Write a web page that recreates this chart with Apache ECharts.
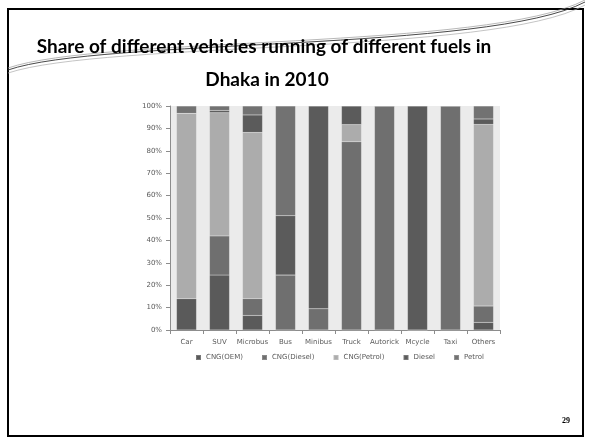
<!DOCTYPE html>
<html><head><meta charset="utf-8">
<script src="https://cdn.jsdelivr.net/npm/echarts@6/dist/echarts.min.js"></script>
<style>html,body{margin:0;padding:0;background:#fff}#c{width:591px;height:444px}</style>
</head><body><div id="c"></div>
<script>
const categories = ['Car','SUV','Microbus','Bus','Minibus','Truck','Autorick','Mcycle','Taxi','Others'];
const cngOem    = [14, 24.5, 6.5, 0, 0, 0, 0, 0, 0, 3.4];
const cngDiesel = [0, 17.5, 7.5, 24.5, 9.5, 84, 100, 0, 100, 7.3];
const cngPetrol = [82.7, 55, 74.2, 0, 0, 7.7, 0, 0, 0, 81.1];
const diesel    = [0, 1, 7.8, 26.5, 90.5, 8.3, 0, 100, 0, 2.4];
const petrol    = [3.3, 2, 4, 49, 0, 0, 0, 0, 0, 5.8];
const titleLines = ['Share of different vehicles running of different fuels in', 'Dhaka in 2010'];

const seriesDefs = [
  ['CNG(OEM)', cngOem, '#5a5a5a'],
  ['CNG(Diesel)', cngDiesel, '#6f6f6f'],
  ['CNG(Petrol)', cngPetrol, '#acacac'],
  ['Diesel', diesel, '#5b5b5b'],
  ['Petrol', petrol, '#727272']
];

const chart = echarts.init(document.getElementById('c'), null, {renderer:'canvas'});
chart.setOption({
  animation:false,
  backgroundColor:'#fff',
  graphic:[
    {type:'rect', shape:{x:8,y:9,width:575,height:427}, style:{fill:'none', stroke:'#000', lineWidth:2}, z:10},
    {type:'bezierCurve', shape:{x1:8,y1:68,x2:585,y2:0,cpx1:100,cpy1:36,cpx2:490,cpy2:50}, style:{stroke:'#999', lineWidth:0.7, fill:'none'}, z:11},
    {type:'bezierCurve', shape:{x1:8,y1:70,x2:585,y2:2,cpx1:100,cpy1:38,cpx2:490,cpy2:52}, style:{stroke:'#333', lineWidth:0.9, fill:'none'}, z:11},
    {type:'bezierCurve', shape:{x1:8,y1:73,x2:585,y2:5,cpx1:105,cpy1:41,cpx2:495,cpy2:55}, style:{stroke:'#aaa', lineWidth:0.7, fill:'none'}, z:11},
    {type:'text', x:264, y:47, style:{text:titleLines[0], font:'bold 19px Lato', fill:'#000', textAlign:'center', textVerticalAlign:'middle'}, z:12},
    {type:'text', x:267, y:80, style:{text:titleLines[1], font:'bold 19px Lato', fill:'#000', textAlign:'center', textVerticalAlign:'middle'}, z:12},
    {type:'text', left:562, top:417, style:{text:'29', font:'bold 8px "Liberation Serif"', fill:'#000'}}
  ],
  grid:{left:170, right:91, top:106, bottom:114, show:true, backgroundColor:'#ebebeb', borderWidth:0},
  legend:{
    left:190, top:349, itemWidth:5, itemHeight:5, itemGap:18, icon:'rect',
    textStyle:{fontSize:7, color:'#595959', fontFamily:'DejaVu Sans'},
    data:seriesDefs.map(d=>d[0])
  },
  xAxis:{
    type:'category', data:categories,
    axisLine:{lineStyle:{color:'#8c8c8c'}},
    axisTick:{show:true, length:4, lineStyle:{color:'#8c8c8c'}},
    axisLabel:{fontSize:7, color:'#595959', margin:9, fontFamily:'DejaVu Sans', interval:0}
  },
  yAxis:{
    type:'value', min:0, max:100, interval:10,
    axisLine:{show:true, lineStyle:{color:'#8c8c8c'}},
    axisTick:{show:true, length:4, lineStyle:{color:'#8c8c8c'}},
    splitLine:{show:false},
    axisLabel:{fontSize:7, color:'#595959', margin:8, fontFamily:'DejaVu Sans', formatter:v=>v+'%'}
  },
  series:seriesDefs.map(d=>({
    name:d[0], type:'bar', stack:'all', data:d[1], barWidth:20,
    itemStyle:{color:d[2], borderColor:'rgba(255,255,255,0.18)', borderWidth:0.5},
    emphasis:{disabled:true}
  }))
});
</script></body></html>
